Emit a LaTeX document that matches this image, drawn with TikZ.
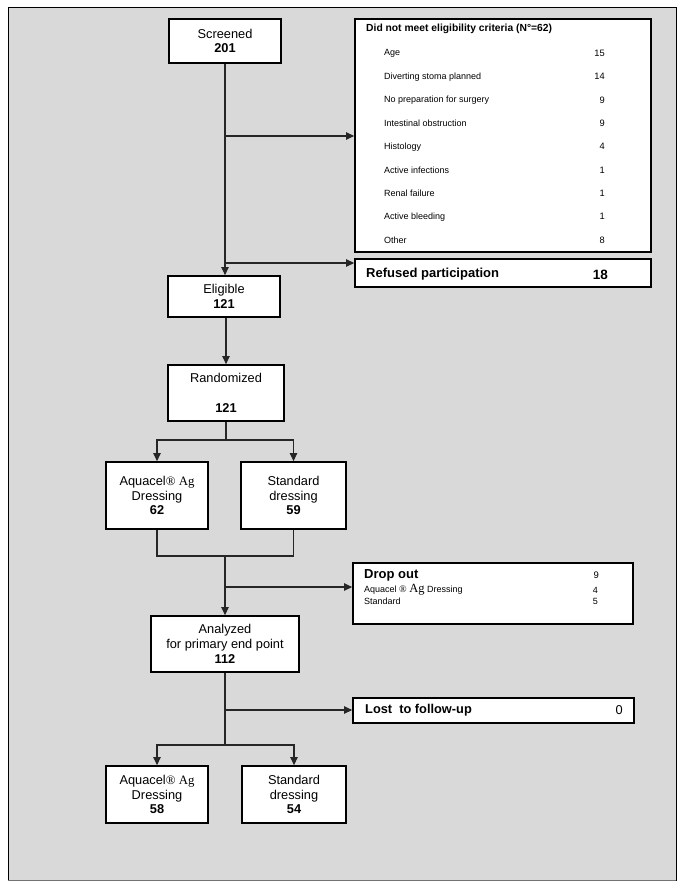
\documentclass[tikz,border=0pt]{standalone}
\usepackage{fontspec}
\setmainfont{Liberation Sans}
\newfontfamily\serifAg{Liberation Serif}
\usetikzlibrary{arrows.meta}
\definecolor{bggray}{HTML}{D9D9D9}
\begin{document}
\begin{tikzpicture}[x=1pt,y=-1pt,
  box/.style={draw=black,line width=1.8pt,fill=white,inner sep=0pt,align=center,
    font=\fontsize{12.8}{14.8}\selectfont},
  conn/.style={line width=1.1pt,draw=black!85},
  arr/.style={conn,-{Triangle[length=8pt,width=7.5pt]}},
  item/.style={anchor=west,inner sep=0pt,font=\fontsize{9}{11}\selectfont},
  num/.style={anchor=east,inner sep=0pt,font=\fontsize{9.3}{11}\selectfont}]
\useasboundingbox (0,0) rectangle (685,890);
\fill[white] (0,0) rectangle (685,890);
\draw[fill=bggray,line width=0.8pt] (8,7) rectangle (676,880);
\draw[line width=1.5pt,draw=black!55] (8,880.5) -- (676,880.5);

% main column
\node[box,minimum width=112pt,minimum height=44pt] (scr) at (225,41) {Screened\\\textbf{201}};
\node[box,minimum width=112pt,minimum height=41pt] (eli) at (224,296.5) {Eligible\\\textbf{121}};
\node[box,minimum width=116pt,minimum height=56pt] (ran) at (226,393) {Randomized\\[15pt]\textbf{121}};
\node[box,minimum width=102pt,minimum height=67pt] (aq1) at (157,495.5) {Aquacel{\serifAg®~Ag}\\Dressing\\\textbf{62}};
\node[box,minimum width=105pt,minimum height=67pt] (st1) at (293.5,495.5) {Standard\\dressing\\\textbf{59}};
\node[box,minimum width=148pt,minimum height=56pt] (ana) at (225,644) {Analyzed\\for primary end point\\\textbf{112}};
\node[box,minimum width=102pt,minimum height=57pt] (aq2) at (157,794.5) {Aquacel{\serifAg®~Ag}\\Dressing\\\textbf{58}};
\node[box,minimum width=104pt,minimum height=57pt] (st2) at (294,794.5) {Standard\\dressing\\\textbf{54}};

% side boxes
\node[box,minimum width=296pt,minimum height=233pt] (dnm) at (503,135.5) {};
\node[item,font=\bfseries\fontsize{10.3}{12}\selectfont] (dnmt) at (366,29) {Did not meet eligibility criteria (N°=62)};
\node[item] (i1) at (384,53.5) {Age};                        \node[num] (n1) at (605,53.5) {15};
\node[item] (i2) at (384,76.8) {Diverting stoma planned};   \node[num] (n2) at (605,76.8) {14};
\node[item] (i3) at (384,100.1) {No preparation for surgery};\node[num] (n3) at (605,100.1) {9};
\node[item] (i4) at (384,123.5) {Intestinal obstruction};     \node[num] (n4) at (605,123.5) {9};
\node[item] (i5) at (384,146.8) {Histology};                \node[num] (n5) at (605,146.8) {4};
\node[item] (i6) at (384,170.1) {Active infections};        \node[num] (n6) at (605,170.1) {1};
\node[item] (i7) at (384,193.5) {Renal failure};              \node[num] (n7) at (605,193.5) {1};
\node[item] (i8) at (384,216.8) {Active bleeding};          \node[num] (n8) at (605,216.8) {1};
\node[item] (i9) at (384,240.1) {Other};                    \node[num] (n9) at (605,240.1) {8};

\node[box,minimum width=296pt,minimum height=28pt] (ref) at (503,273) {};
\node[item,font=\bfseries\fontsize{13}{15}\selectfont] (reft) at (366,274.5) {Refused participation};
\node[num,font=\bfseries\fontsize{13.5}{15}\selectfont] (refn) at (608,274.5) {18};

\node[box,minimum width=280pt,minimum height=61pt] (dro) at (493,593.5) {};
\node[item,font=\bfseries\fontsize{13}{15}\selectfont] (drot) at (364,575) {Drop out};
\node[num,font=\fontsize{9.5}{11}\selectfont] (dron) at (599,575) {9};
\node[item,font=\fontsize{9}{10}\selectfont] (dro1) at (364,590) {Aquacel {\serifAg\fontsize{10}{10}\selectfont ®} {\serifAg\fontsize{12.5}{12}\selectfont Ag} Dressing};
\node[num,font=\fontsize{9}{10}\selectfont] (dro1n) at (598,590.5) {4};
\node[item,font=\fontsize{9}{10}\selectfont] (dro2) at (364,601.5) {Standard};
\node[num,font=\fontsize{9}{10}\selectfont] (dro2n) at (598,601.5) {5};

\node[box,minimum width=281pt,minimum height=25pt] (los) at (493.5,710.5) {};
\node[item,font=\bfseries\fontsize{12.8}{14}\selectfont] (lost) at (365,710.5) {Lost\ \ to follow-up};
\node[num,font=\fontsize{12.8}{14}\selectfont] (losn) at (623,710.5) {0};

% connectors
\coordinate (b1) at (225,136);
\coordinate (b2) at (225,263);
\draw[arr] (scr.south) -- (scr.south |- eli.north);
\draw[arr] (b1) -- (b1 -| dnm.west);
\draw[arr] (b2) -- (b2 -| ref.west);
\draw[arr] (eli.south -| ran.north) -- (ran.north);

\coordinate (r1) at (226,440);
\draw[conn] (ran.south) -- (r1);
\draw[arr] (r1) -| (aq1.north);
\draw[arr] (r1) -| (st1.north);

\coordinate (j1) at (225,556);
\draw[conn] (aq1.south) |- (j1);
\draw[conn] (st1.south) |- (j1);
\draw[arr] (j1) -- (ana.north);
\coordinate (b3) at (225,587);
\draw[arr] (b3) -- (b3 -| dro.west);

\coordinate (r2) at (225,745);
\draw[conn] (ana.south) -- (r2);
\draw[arr] (r2) -| (aq2.north);
\draw[arr] (r2) -| (st2.north);
\coordinate (b4) at (225,710);
\draw[arr] (b4) -- (b4 -| los.west);
\end{tikzpicture}
\end{document}
